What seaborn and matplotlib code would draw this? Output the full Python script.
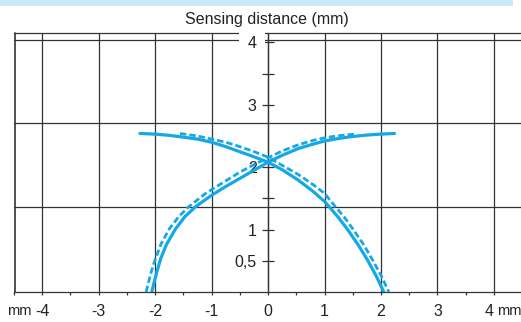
import matplotlib
matplotlib.use("Agg")
import matplotlib.pyplot as plt
import seaborn as sns
from matplotlib.patches import Rectangle

# ---------------- data ----------------
# solid curve running from upper-left down to lower-right
solid_a_x = [-2.27, -2.00, -1.75, -1.57, -1.25, -1.00, -0.75, -0.57, -0.29, 0.00,
             0.25, 0.54, 0.80, 1.00, 1.08, 1.24, 1.41, 1.60, 1.77, 1.92, 2.05]
solid_a_y = [2.54, 2.53, 2.51, 2.49, 2.45, 2.40, 2.33, 2.27, 2.18, 2.08,
             1.96, 1.79, 1.61, 1.45, 1.37, 1.20, 1.00, 0.75, 0.50, 0.25, 0.00]
# solid curve running from lower-left up to upper-right
solid_b_x = [-2.06, -2.02, -1.97, -1.90, -1.80, -1.64, -1.47, -1.28, -1.00, -0.75,
             -0.50, -0.25, 0.00, 0.25, 0.54, 0.80, 1.00, 1.25, 1.48, 1.75, 2.00, 2.24]
solid_b_y = [0.00, 0.15, 0.32, 0.54, 0.76, 1.01, 1.21, 1.37, 1.55, 1.69,
             1.82, 1.95, 2.08, 2.19, 2.30, 2.37, 2.42, 2.46, 2.49, 2.515, 2.53, 2.54]
# dashed curve from upper-left to lower-right
dashed_a_x = [-1.56, -1.25, -1.00, -0.75, -0.57, -0.28, 0.00, 0.25, 0.54, 0.80,
              1.00, 1.19, 1.35, 1.51, 1.70, 1.86, 2.01, 2.14]
dashed_a_y = [2.54, 2.50, 2.45, 2.40, 2.35, 2.26, 2.16, 2.03, 1.88, 1.72,
              1.58, 1.37, 1.20, 1.00, 0.75, 0.50, 0.25, 0.00]
# dashed curve from lower-left to upper-right
dashed_b_x = [-2.16, -2.12, -2.07, -2.00, -1.90, -1.75, -1.58, -1.40, -1.12, -1.00,
              -0.75, -0.50, -0.25, 0.00, 0.25, 0.54, 0.80, 1.00, 1.25, 1.55]
dashed_b_y = [0.00, 0.15, 0.32, 0.52, 0.76, 1.01, 1.21, 1.37, 1.57, 1.64,
              1.78, 1.92, 2.04, 2.15, 2.26, 2.36, 2.43, 2.47, 2.505, 2.53]

x_ticks = [-4, -3, -2, -1, 0, 1, 2, 3, 4]
x_tick_labels = ["-4", "-3", "-2", "-1", "0", "1", "2", "3", "4"]
y_ticks = [0.5, 1, 1.5, 2, 3, 3.5, 4]
y_tick_labels = ["0,5", "1", "", "2", "3", "", "4"]
title = "Sensing distance (mm)"
unit = "mm"

# ---------------- style ----------------
sns.set_theme(style="white")
plt.rcParams['font.family'] = ['Liberation Sans', 'DejaVu Sans']
plt.rcParams['axes.unicode_minus'] = False

BLUE = "#14a9e6"
GRID = "#333333"
TXT = "#222222"
FS = 11.5
W, H = 521, 322

fig = plt.figure(figsize=(W / 100, H / 100), dpi=100)
fig.patch.set_facecolor("white")
ax = fig.add_axes([14 / W, 30 / H, 509 / W, 259 / H])
ax.set_facecolor("white")
ax.set_axisbelow(False)

XMIN, XMAX = -4.477, 4.516
ax.set_xlim(XMIN, XMAX)
ax.set_ylim(0, 4.15)

# curves
for xs, ys in [(solid_a_x, solid_a_y), (solid_b_x, solid_b_y)]:
    sns.lineplot(x=xs, y=ys, sort=False, estimator=None, color=BLUE,
                 lw=2.3, ax=ax, zorder=3)
for xs, ys in [(dashed_a_x, dashed_a_y), (dashed_b_x, dashed_b_y)]:
    sns.lineplot(x=xs, y=ys, sort=False, estimator=None, color=BLUE,
                 lw=2.0, linestyle=(0, (2.3, 1.1)), ax=ax, zorder=3)

# grid
for gy in [1.36, 2.70, 4.04]:
    ax.axhline(gy, color=GRID, lw=0.9, zorder=1)
ax.set_xticks(x_ticks)
ax.set_xticklabels(x_tick_labels)
ax.set_xticks([v + 0.5 for v in range(-5, 5)], minor=True)
ax.xaxis.grid(True, which="major", color=GRID, lw=0.9, zorder=1)
ax.yaxis.grid(False)

# spines
for s in ["left", "bottom", "top"]:
    ax.spines[s].set_visible(True)
    ax.spines[s].set_color(GRID)
    ax.spines[s].set_linewidth(0.9)
ax.spines["right"].set_visible(False)
ax.spines["left"].set_position(("data", 0))
ax.axvline(XMIN, color=GRID, lw=1.2, clip_on=False, zorder=1)

# y ticks on central axis
ax.set_yticks(y_ticks)
ax.set_yticklabels(y_tick_labels)
ax.tick_params(axis="y", direction="inout", length=8.6, width=0.9, color=GRID,
               pad=3.9, labelsize=FS, labelcolor=TXT, left=True)
for lab in ax.get_yticklabels():
    if lab.get_text() == "4":
        lab.set_bbox(dict(facecolor="white", edgecolor="none", boxstyle="square,pad=0.55"))

ax.tick_params(axis="x", which="major", direction="out", length=2.5, width=0.9,
               color=GRID, pad=6.5, labelsize=FS, labelcolor=TXT, bottom=True)
ax.tick_params(axis="x", which="minor", direction="out", length=2.0, width=0.9,
               color=GRID, bottom=True)
xl = ax.get_xticklabels()
xl[-1].set_horizontalalignment("right")
ax.set_xlabel("")
ax.set_ylabel("")

# unit labels and title
fig.text(19.5 / W, 1 - 304 / H, unit, ha="center", va="top", fontsize=10.5, color=TXT)
fig.text(509.5 / W, 1 - 304 / H, unit, ha="center", va="top", fontsize=10.5, color=TXT)
fig.text(267 / W, 1 - 24 / H, title, ha="center", va="baseline", fontsize=FS, color=TXT)

# light-blue band at top
fig.patches.append(Rectangle((0, 1 - 6 / H), 513 / W, 6 / H, transform=fig.transFigure,
                             facecolor="#c9e9f8", edgecolor="none"))

fig.savefig("out.png", dpi=100)
